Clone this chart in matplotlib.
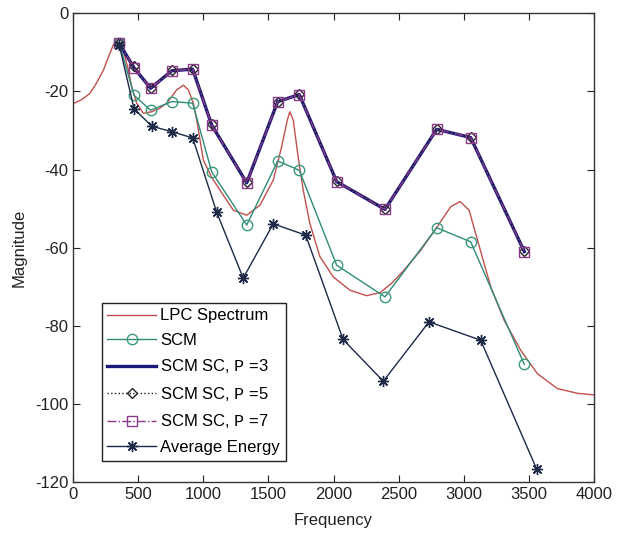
import matplotlib
matplotlib.use('Agg')
import matplotlib.pyplot as plt

plt.rcParams['font.family'] = ['Liberation Sans Narrow', 'Liberation Sans', 'DejaVu Sans']
plt.rcParams['mathtext.fontset'] = 'custom'
plt.rcParams['mathtext.tt'] = 'Liberation Mono'
plt.rcParams['axes.unicode_minus'] = False

# LPC spectrum
lpc_f = [0, 60, 129, 180, 233, 270, 308, 336, 365, 398, 424, 449, 488, 539, 603, 660,
         719, 795, 847, 885, 923, 949, 974, 1000, 1064, 1128, 1230, 1333, 1435, 1537,
         1601, 1645, 1664, 1690, 1728, 1767, 1818, 1895, 1998, 2126, 2254, 2357, 2450,
         2540, 2669, 2797, 2900, 2972, 3041, 3105, 3207, 3310, 3438, 3566, 3720, 3874, 4000]
lpc_m = [-23.1, -22.2, -20.5, -17.8, -14.5, -11.3, -8.1, -7.3, -8.2, -11.1, -14.5, -18.8,
         -23.0, -25.6, -25.2, -24.4, -23.0, -19.6, -18.4, -19.6, -23.0, -27.3, -32.4, -37.6,
         -42.0, -45.3, -50.4, -51.7, -49.1, -42.7, -34.2, -27.3, -25.2, -27.3, -36.7, -45.3,
         -53.8, -62.3, -67.5, -70.9, -72.3, -71.5, -69.0, -65.8, -60.7, -54.6, -49.5, -48.2,
         -50.4, -58.0, -70.0, -78.6, -86.3, -92.3, -96.1, -97.3, -97.7]

# formant frequencies used by SCM / SCM SC
frm_f = [354, 468, 595, 757, 918, 1064, 1333, 1571, 1737, 2024, 2395, 2792, 3053, 3465]
scm = [-7.7, -21.0, -24.8, -22.6, -23.0, -40.6, -54.2, -37.8, -40.2, -64.5, -72.6, -54.9, -58.5, -89.9]
sc_p3 = [-7.7, -14.0, -19.2, -14.7, -14.3, -28.6, -43.4, -22.6, -20.8, -43.1, -50.2, -29.7, -31.8, -61.0]
sc_p5 = [-7.7, -13.6, -19.0, -14.6, -14.2, -28.4, -43.2, -22.6, -20.7, -43.0, -50.0, -29.6, -31.7, -60.8]
sc_p7 = [-7.7, -14.0, -19.2, -14.7, -14.3, -28.6, -43.4, -22.6, -20.8, -43.1, -50.2, -29.7, -31.8, -61.0]

# average energy
avg_f = [354, 467, 603, 757, 918, 1102, 1306, 1537, 1786, 2073, 2382, 2733, 3130, 3560]
avg_e = [-8.1, -24.4, -28.9, -30.3, -31.9, -50.9, -67.8, -53.9, -56.8, -83.5, -94.2, -79.0, -83.7, -116.7]

fig = plt.figure(figsize=(6.2, 5.33), dpi=100)
ax = fig.add_axes([0.118, 0.0957, 0.840, 0.8793])

ax.plot(lpc_f, lpc_m, color='#c0504d', lw=1.0, label='LPC Spectrum')
ax.plot(frm_f, scm, color='#2f8a78', lw=1.0, marker='o', ms=7.5, mfc='none', mec='#3a9a7a',
        label='SCM')
ax.plot(frm_f, sc_p3, color='#1a1a7a', lw=2.4, label=r'SCM SC, $\mathtt{P}$ =3')
ax.plot(frm_f, sc_p5, color='#222222', lw=1.0, ls=':', marker='D', ms=5.5, mfc='none',
        mec='#222222', label=r'SCM SC, $\mathtt{P}$ =5')
ax.plot(frm_f, sc_p7, color='#8a3a8a', lw=1.0, ls='-.', marker='s', ms=7, mfc='none',
        mec='#8a3a8a', label=r'SCM SC, $\mathtt{P}$ =7')
ax.plot(avg_f, avg_e, color='#1c2a48', lw=1.0, marker=(8, 2, 0), ms=8, mec='#1c2a48',
        label='Average Energy')

ax.set_xlim(0, 4000)
ax.set_ylim(-120, 0)
ax.set_xticks(range(0, 4001, 500))
ax.set_yticks(range(-120, 1, 20))
ax.tick_params(direction='in', top=True, right=True, length=5, labelsize=12, colors='#222222',
               labelcolor='#222222')
for s in ax.spines.values():
    s.set_color('#333333')
    s.set_linewidth(1.0)

ax.set_xlabel('Frequency', fontsize=12, color='#222222')
ax.set_ylabel('Magnitude', fontsize=12, color='#222222')
ax.xaxis.set_label_coords(0.5, -0.066)
ax.yaxis.set_label_coords(-0.089, 0.5)

leg = ax.legend(loc='lower left', bbox_to_anchor=(0.0547, 0.0454), borderaxespad=0,
                fontsize=12, handlelength=2.9, handletextpad=0.25, labelspacing=0.57,
                borderpad=0.35, fancybox=False, framealpha=1, edgecolor='#222222')
leg.get_frame().set_linewidth(1.0)

fig.savefig('out.png', dpi=100, facecolor='white')
